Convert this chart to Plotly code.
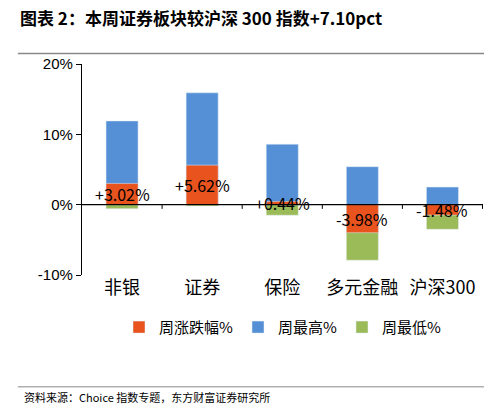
import plotly.graph_objects as go

categories = ["非银", "证券", "保险", "多元金融", "沪深300"]
week_change = [3.02, 5.62, 0.44, -3.98, -1.48]
week_high = [11.9, 15.9, 8.6, 5.4, 2.5]
week_low = [-0.57, -0.2, -1.5, -7.9, -3.5]
labels = ["+3.02%", "+5.62%", "+0.44%", "-3.98%", "-1.48%"]

FONT = "Noto Sans CJK SC"
fig = go.Figure()
fig.add_bar(x=categories, y=week_high, name="周最高%", marker_color="#5590D6", width=0.4)
fig.add_bar(x=categories, y=week_low, name="周最低%", marker_color="#9BBB59", width=0.4)
fig.add_bar(x=categories, y=week_change, name="周涨跌幅%", marker_color="#E8531E", width=0.4)

for c, v, t in zip(categories, week_change, labels):
    fig.add_annotation(x=c, y=v / 2, text=t, showarrow=False, font=dict(size=16, color="black", family=FONT))

shapes = [dict(type="line", xref="paper", yref="y", x0=0, x1=1, y0=0, y1=0, line=dict(color="black", width=1.2))]
for i in range(len(categories)):
    shapes.append(dict(type="line", xref="x", yref="y", x0=i + 0.5, x1=i + 0.5, y0=0, y1=-0.6, line=dict(color="black", width=1)))
shapes.append(dict(type="line", xref="paper", yref="paper", x0=-0.16, x1=1.05, y0=1.05, y1=1.05, line=dict(color="#888", width=1.5)))
shapes.append(dict(type="line", xref="paper", yref="paper", x0=-0.16, x1=1.05, y0=-0.53, y1=-0.53, line=dict(color="#888", width=1)))

fig.update_layout(
    width=492, height=413, barmode="overlay",
    margin=dict(l=74, r=17, t=56, b=146),
    plot_bgcolor="white", paper_bgcolor="white",
    font=dict(family=FONT, size=14, color="black"),
    legend=dict(orientation="h", x=0.5, xanchor="center", y=-0.17, yanchor="top",
                traceorder="normal", font=dict(size=15), itemwidth=30),
    yaxis=dict(range=[-10, 20], tickvals=[-10, 0, 10, 20], ticktext=["-10%", "0%", "10%", "20%"],
               showgrid=False, zeroline=False, showline=True, linecolor="black", linewidth=1.2,
               ticks="outside", ticklen=5, tickcolor="black", tickfont=dict(size=15, family="Arial")),
    xaxis=dict(showgrid=False, showline=False, ticks="", tickfont=dict(size=18)),
    shapes=shapes,
    annotations=list(fig.layout.annotations) + [
        dict(xref="paper", yref="paper", x=-0.16, y=1.22, xanchor="left", yanchor="middle", showarrow=False,
             text="<b>图表 2：本周证券板块较沪深 300 指数+7.10pct</b>", font=dict(size=17, family=FONT)),
        dict(xref="paper", yref="paper", x=-0.15, y=-0.58, xanchor="left", yanchor="middle", showarrow=False,
             text="资料来源：Choice 指数专题，东方财富证券研究所", font=dict(size=11, family=FONT)),
    ],
)
fig.data[2].legendrank = 1
fig.data[0].legendrank = 2
fig.data[1].legendrank = 3
fig.write_html("out.html")
